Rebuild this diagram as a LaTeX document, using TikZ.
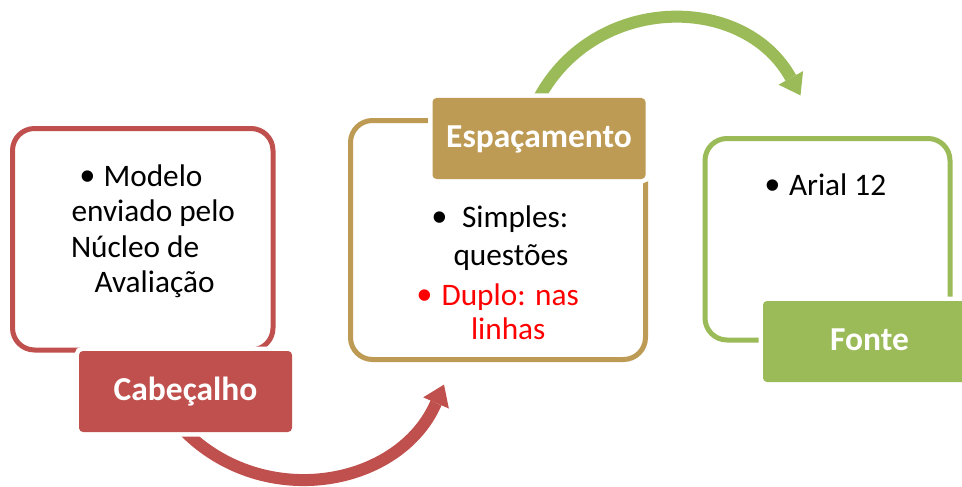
\documentclass[tikz,border=0pt]{standalone}
\usepackage{fontspec}
\setmainfont{Carlito}
\newfontfamily\bulletfont{Liberation Sans}
\usetikzlibrary{arrows.meta}
\definecolor{cred}{RGB}{192,80,77}
\definecolor{cgold}{RGB}{190,155,84}
\definecolor{cgreen}{RGB}{155,187,89}
\definecolor{tred}{RGB}{255,0,0}
\pgfdeclarelayer{bg}
\pgfdeclarelayer{back}
\pgfsetlayers{bg,back,main}
\newcommand{\bigbullet}{\raisebox{-4pt}{•}}
\begin{document}
\begin{tikzpicture}[x=1pt,y=-1pt,
  frame/.style={draw=#1, line width=5pt, rounded corners=22pt, inner sep=0pt, outer sep=0pt},
  tag/.style={fill=#1, rounded corners=4pt, inner sep=0pt, outer sep=0pt, minimum width=213pt, minimum height=81pt, text=white, font=\fontsize{33.5}{40}\selectfont\bfseries, text height=17pt, text depth=0pt, preaction={draw=white, line width=9pt}},
  body/.style={anchor=base west, inner sep=0pt, outer sep=0pt, font=\fontsize{31.3}{36}\selectfont},
  dot/.style={anchor=base west, inner sep=0pt, outer sep=0pt, font=\fontsize{42}{36}\selectfont\bulletfont},
  bend/.style={draw=#1, line width=12pt, -{Triangle[width=28pt,length=20pt,line width=0pt]}},
]
\begin{pgfonlayer}{bg}
\useasboundingbox[fill=white] (0,0) rectangle (962,487);
\end{pgfonlayer}
\clip (0,0) rectangle (962,487);

% frames
\node[frame=cred,   minimum width=260.5pt, minimum height=221.5pt] (box1) at (142.75,239.25) {};
\node[frame=cgold,  minimum width=295pt,   minimum height=239pt]   (box2) at (498,240) {};
\node[frame=cgreen, minimum width=245pt,   minimum height=201.5pt] (box3) at (827.5,239.25) {};

% labels
\node[tag=cred]   (lab1) at (185.5,391.5) {Cabeçalho};
\node[tag=cgold]  (lab2) at (539,138.5)   {Espaçamento};
\node[tag=cgreen] (lab3) at (869.5,341.5) {Fonte};

% text of box 1
\node[dot]  (b1)  at (80,186)  {\bigbullet};
\node[body] (t1a) at (103.5,186) {Modelo};
\node[body] (t1b) at (71.5,221)  {enviado pelo};
\node[body] (t1c) at (71,257) {Núcleo de};
\node[body] (t1d) at (94.5,292)  {Avaliação};

% text of box 2
\node[dot]  (b2)  at (432,227)   {\bigbullet};
\node[body] (t2a) at (462,227)   {Simples:};
\node[body] (t2b) at (453.5,265) {questões};
\node[dot, text=tred]  (b3)  at (417,305) {\bigbullet};
\node[body, text=tred] (t2c) at (441.5,305) {Duplo: nas};
\node[body, text=tred] (t2d) at (471,339) {linhas};

% text of box 3
\node[dot]  (b4)  at (765,195) {\bigbullet};
\node[body] (t3a) at (789,195) {Arial 12};

% arrows
\coordinate (tip1) at (444,384.6);
\coordinate (tip2) at (800.5,95.4);
\begin{pgfonlayer}{back}
\draw[bend=cred] (lab1.south) .. controls (265.8,511.1) and (399.7,486.4) .. (tip1);
\draw[bend=cgreen] (lab2.north) .. controls (594.6,-5.9) and (743.4,-7.7) .. (tip2);
\end{pgfonlayer}
\end{tikzpicture}
\end{document}
